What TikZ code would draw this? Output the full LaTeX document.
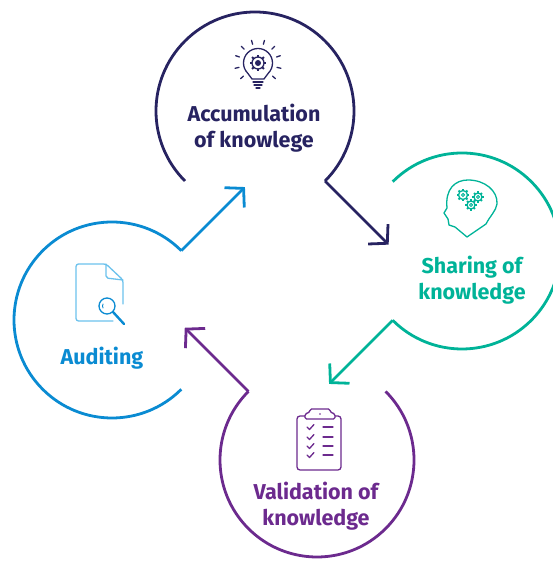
\documentclass[tikz,border=0pt]{standalone}
\usepackage{fontspec}
\setmainfont{Fira Sans}
\usetikzlibrary{calc, arrows.meta}

\definecolor{navyc}{HTML}{272361}
\definecolor{tealc}{HTML}{00B398}
\definecolor{bluec}{HTML}{0A8BD2}
\definecolor{lightbluec}{HTML}{6BC1EC}
\definecolor{purplec}{HTML}{6C2A8E}

\tikzset{
  ring/.style={circle, inner sep=0pt, outer sep=0pt},
  ring line/.style={line width=2.8pt},
  flow/.style={line width=2.8pt, -{Straight Barb[length=13pt,width=28pt]}},
  label text/.style={font=\bfseries\fontsize{21.5}{26}\selectfont, align=center, inner sep=0pt},
  icon/.style={line width=1.3pt, line cap=round, line join=round},
}

\newcommand{\cogwheel}[4]{%
  \draw[icon, #4] (#1) circle[radius=#2];
  \foreach \a in {0,45,...,315}
    \draw[#4, line width=1.9pt] (#1) ++(\a:#2) -- ++(\a:#3);
}

\begin{document}
\begin{tikzpicture}[x=1pt, y=1pt]
\useasboundingbox (0,0) rectangle (552,561);

\node[ring, minimum size=198pt] (acc) at (255,450) {};
\node[ring, minimum size=196pt] (shr) at (462,310) {};
\node[ring, minimum size=194pt] (val) at (317,101) {};
\node[ring, minimum size=196pt] (aud) at (112,241) {};

\draw[navyc, ring line] (acc.-45) arc[start angle=-45, end angle=225, radius=99];
\draw[tealc, ring line] (shr.-135) arc[start angle=-135, end angle=135, radius=98];
\draw[purplec, ring line] (val.135) arc[start angle=135, end angle=405, radius=97];
\draw[bluec, ring line] (aud.45) arc[start angle=45, end angle=315, radius=98];

\coordinate (accTip) at ($(acc.-45)+(-45:90)$);
\coordinate (shrTip) at ($(shr.-135)+(225:90)$);
\coordinate (valTip) at ($(val.135)+(135:90)$);
\coordinate (audTip) at ($(aud.45)+(45:90)$);

\draw[navyc, flow] (acc.-45) -- (accTip);
\draw[tealc, flow] (shr.-135) -- (shrTip);
\draw[purplec, flow] (val.135) -- (valTip);
\draw[bluec, flow] (aud.45) -- (audTip);

\node[label text, navyc] (accText) at (254,433) {Accumulation\\of knowlege};
\node[label text, tealc] (shrText) at (472,281) {Sharing of\\knowledge};
\node[label text, purplec] (valText) at (316,55) {Validation of\\knowledge};
\node[label text, bluec, anchor=base] (audText) at (102,196) {Auditing};

% bulb
\coordinate (bulb) at (258,498);
\draw[icon, navyc] (264,482) -- ($(bulb)+(-45:14.5)$) arc[start angle=-45, end angle=225, radius=14.5] -- (252,482) -- cycle;
\draw[icon, navyc] (253,479) -- (263,479) (254,476) -- (262,476) (256,473) -- (260,473);
\foreach \a in {74,106,45,135,18,162,-13,193,-42,222}
  \draw[icon, navyc] (bulb) ++(\a:19.5) -- ++(\a:4);
\cogwheel{bulb}{6}{2.4}{navyc}
\fill[navyc] (bulb) circle[radius=3];

% head
\draw[icon, tealc] (467,324) -- (455,334) -- (449,336) -- (448,342) -- (444,348) -- (447,353)
  .. controls (445,372) and (455,381) .. (468,381)
  .. controls (485,381) and (498,370) .. (497,357)
  .. controls (496,350) and (490,345) .. (486,337) -- cycle;
\coordinate (cogA) at (463,366);
\coordinate (cogB) at (478,364);
\coordinate (cogC) at (471,356);
\cogwheel{cogA}{4.5}{1.7}{tealc}
\cogwheel{cogB}{4}{1.6}{tealc}
\cogwheel{cogC}{4}{1.6}{tealc}
\foreach \c in {cogA,cogB,cogC}
  \draw[tealc, line width=0.9pt] (\c) circle[radius=1.6];

% document
\draw[icon, lightbluec, rounded corners=2.5pt] (123,257) -- (123,281) -- (106,297) -- (76,297) -- (76,240) -- (113,240);
\draw[icon, lightbluec, rounded corners=2pt] (106,297) -- (106,283) -- (123,281);
\coordinate (lens) at (107,255);
\draw[icon, bluec, fill=white] (lens) circle[radius=8];
\draw[bluec, line width=0.9pt] (lens) ++(150:4.5) arc[start angle=150, end angle=210, radius=4.5];
\draw[bluec, line width=2.4pt, line cap=round] (113,249) -- (124,237);

% clipboard
\draw[icon, purplec, rounded corners=3pt] (297,91) rectangle (341,145);
\draw[icon, purplec, fill=white, rounded corners=1.5pt] (305,142) -- (305,147) -- (310,149) -- (310,152) -- (330,152) -- (330,149) -- (335,147) -- (335,142) -- cycle;
\fill[purplec] (320,147) circle[radius=0.9];
\foreach \y in {134,124,115,106} {
  \draw[icon, purplec] (307,\y) -- (309.5,\y-2.5) -- (314,\y+2.5);
  \draw[icon, purplec] (323,\y) -- (333,\y);
}
\end{tikzpicture}
\end{document}
